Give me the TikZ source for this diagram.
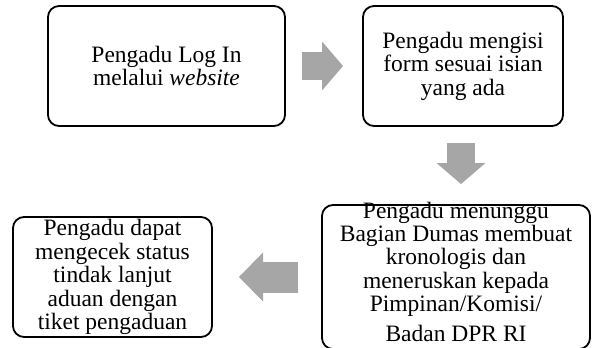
\documentclass[tikz,border=0pt]{standalone}
\usepackage{fontspec}
\setmainfont{Liberation Serif}
\usepackage{tikz}
\usetikzlibrary{arrows.meta,positioning}
\definecolor{pnarrow}{HTML}{A6A6A6}
\definecolor{pnline}{HTML}{000000}
\tikzset{
  pbox/.style={draw=pnline,line width=1.8pt,rounded corners=11pt,align=center,
    inner sep=0pt,outer sep=0pt,font=\fontsize{23.5}{23.4}\selectfont},
  bigarrow/.style={-{Triangle[length=21pt,width=49pt,line width=0pt]},line width=28pt,draw=pnarrow}
}
\begin{document}
\begin{tikzpicture}[node distance=78pt]
    \useasboundingbox (0,0) rectangle (592pt,-348pt);
    \node[pbox,minimum width=237pt,minimum height=120pt] (login) at (166.5pt,-66pt) {Pengadu Log In\\melalui \textit{website}};
    \node[pbox,minimum width=200pt,minimum height=120pt,right=of login] (isi) {Pengadu mengisi\\form sesuai isian\\yang ada};
    \node[pbox,minimum width=268pt,minimum height=144pt,inner ysep=-12pt,text depth=10.5pt,below=79pt of isi,xshift=-7pt] (tunggu) {Pengadu menunggu\\Bagian Dumas membuat\\kronologis dan\\meneruskan kepada\\Pimpinan/Komisi/\\[6.5pt]Badan DPR RI};
    \node[pbox,minimum width=199pt,minimum height=120pt,left=110pt of tunggu] (cek) {Pengadu dapat\\mengecek status\\tindak lanjut\\aduan dengan\\tiket pengaduan};
    \coordinate (turun) at ([xshift=-2pt]isi.south);
    \draw[bigarrow,shorten <=17pt,shorten >=20pt] (login) -- (isi);
    \draw[bigarrow,shorten <=17pt,shorten >=21pt] (turun) -- (turun |- tunggu.north);
    \draw[bigarrow,line width=31pt,-{Triangle[length=24pt,width=49pt,line width=0pt]},shorten <=24pt,shorten >=27pt] (tunggu) -- (cek);
  \end{tikzpicture}
\end{document}
